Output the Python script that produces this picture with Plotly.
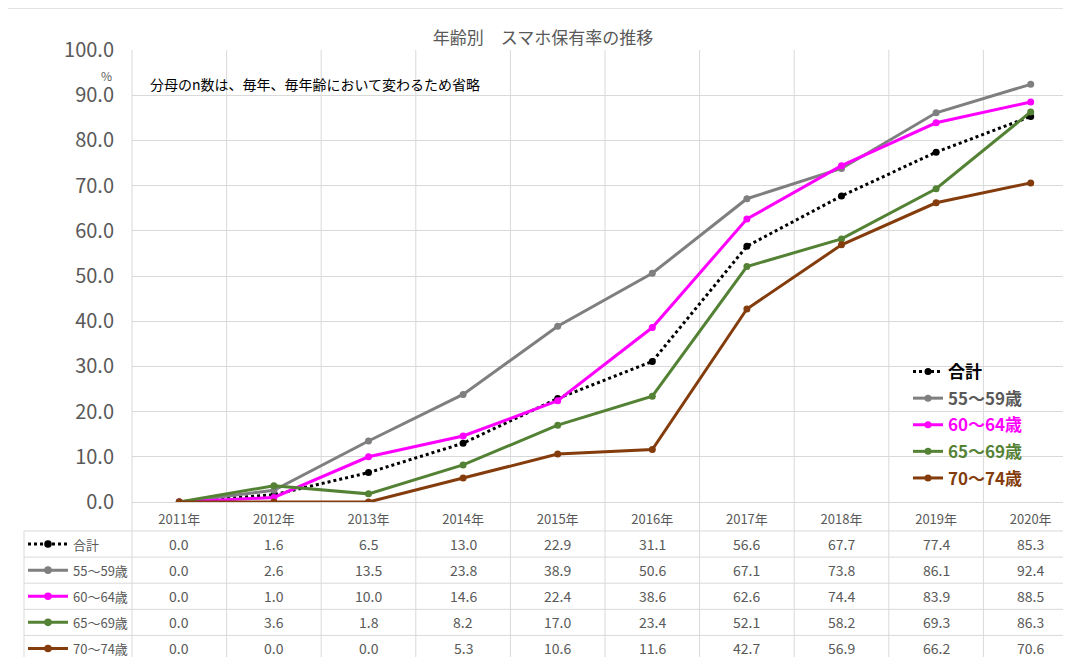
import plotly.graph_objects as go

# ---------------- data ----------------
years = ["2011年", "2012年", "2013年", "2014年", "2015年",
         "2016年", "2017年", "2018年", "2019年", "2020年"]
total    = [0.0, 1.6, 6.5, 13.0, 22.9, 31.1, 56.6, 67.7, 77.4, 85.3]
age55_59 = [0.0, 2.6, 13.5, 23.8, 38.9, 50.6, 67.1, 73.8, 86.1, 92.4]
age60_64 = [0.0, 1.0, 10.0, 14.6, 22.4, 38.6, 62.6, 74.4, 83.9, 88.5]
age65_69 = [0.0, 3.6, 1.8, 8.2, 17.0, 23.4, 52.1, 58.2, 69.3, 86.3]
age70_74 = [0.0, 0.0, 0.0, 5.3, 10.6, 11.6, 42.7, 56.9, 66.2, 70.6]

series_names = ["合計", "55～59歳", "60～64歳", "65～69歳", "70～74歳"]
series_vals = [total, age55_59, age60_64, age65_69, age70_74]
series_colors = ["#000000", "#7f7f7f", "#ff00ff", "#548235", "#843c0c"]
series_dash = ["dot", "solid", "solid", "solid", "solid"]
legend_colors = ["#000000", "#595959", "#ff00ff", "#548235", "#843c0c"]

title_text = "年齢別　スマホ保有率の推移"
note_text = "分母のn数は、毎年、毎年齢において変わるため省略"

# ---------------- layout geometry (page pixels) ----------------
OFF = 8                      # browser body margin
W_WIN, H_WIN = 1071, 657
W_FIG, H_FIG = W_WIN - OFF, H_WIN - OFF
PL, PT, PW, PH = 132, 50, 939, 452
COLW = 94.6
X0 = -0.5
X1 = X0 + PW / COLW
ROW_TOP = 531
RH = 26.1
GRID = "#d9d9d9"
TXT = "#595959"
FONT = "Noto Sans CJK JP"


def xp(px):
    return (px - PL) / PW


def yp(py):
    return (PT + PH - py) / PH


def cat_px(i):
    return PL + (i - X0) * COLW


fig = go.Figure()
for k, (name, vals, col, dash, lcol) in enumerate(
        zip(series_names, series_vals, series_colors, series_dash, legend_colors)):
    fig.add_trace(go.Scatter(
        x=list(range(len(years))), y=vals, mode="lines+markers",
        name=f"<b><span style='color:{lcol}'>{name}</span></b>",
        legendgroup=f"g{k}",
        line=dict(color=col, width=3, dash=dash),
        marker=dict(color=col, size=7),
    ))

shapes = []
# outer chart border
shapes.append(dict(type="rect", xref="paper", yref="paper",
                   x0=xp(6), x1=xp(W_WIN + 5), y0=yp(H_WIN + 5), y1=yp(8),
                   line=dict(color=GRID, width=1.5), layer="below"))
# vertical column boundaries (plot + table)
for k in range(len(years) + 1):
    px = cat_px(k - 0.5)
    if px > W_WIN:
        continue
    shapes.append(dict(type="line", xref="paper", yref="paper",
                       x0=xp(px), x1=xp(px), y0=yp(H_WIN + 5), y1=yp(PT),
                       line=dict(color=GRID, width=1), layer="below"))
# table left edge
shapes.append(dict(type="line", xref="paper", yref="paper",
                   x0=xp(24), x1=xp(24), y0=yp(H_WIN + 5), y1=yp(ROW_TOP),
                   line=dict(color=GRID, width=1), layer="below"))
# table horizontal lines
for r in range(len(series_names) + 1):
    py = ROW_TOP + r * RH
    shapes.append(dict(type="line", xref="paper", yref="paper",
                       x0=xp(24), x1=xp(W_WIN + 5), y0=yp(py), y1=yp(py),
                       line=dict(color=GRID, width=1), layer="below"))

annotations = []
# table legend keys + values
for r, (name, vals, col, dash) in enumerate(zip(series_names, series_vals,
                                                series_colors, series_dash)):
    cy = ROW_TOP + (r + 0.5) * RH
    shapes.append(dict(type="line", xref="paper", yref="paper",
                       x0=xp(28), x1=xp(68), y0=yp(cy), y1=yp(cy),
                       line=dict(color=col, width=3, dash=dash)))
    rad = 3.8
    shapes.append(dict(type="circle", xref="paper", yref="paper",
                       x0=xp(48 - rad), x1=xp(48 + rad),
                       y0=yp(cy + rad), y1=yp(cy - rad),
                       fillcolor=col, line=dict(color=col, width=0)))
    annotations.append(dict(xref="paper", yref="paper", x=xp(71), y=yp(cy),
                            text=name, showarrow=False, xanchor="left",
                            yanchor="middle",
                            font=dict(family=FONT, size=13, color=TXT)))
    for i, v in enumerate(vals):
        annotations.append(dict(xref="paper", yref="paper",
                                x=xp(cat_px(i)), y=yp(cy),
                                text=f"{v:.1f}", showarrow=False,
                                xanchor="center", yanchor="middle",
                                font=dict(family=FONT, size=14, color=TXT)))

annotations.append(dict(xref="paper", yref="paper", x=xp(148), y=yp(84),
                        text=note_text, showarrow=False, xanchor="left",
                        yanchor="middle",
                        font=dict(family=FONT, size=14, color="#000000")))
annotations.append(dict(xref="paper", yref="paper", x=xp(114), y=yp(75),
                        text="%", showarrow=False, xanchor="right",
                        yanchor="middle",
                        font=dict(family=FONT, size=12, color=TXT)))

fig.update_layout(
    width=W_FIG, height=H_FIG,
    margin=dict(l=PL - OFF, r=W_FIG - (PL - OFF) - PW, t=PT - OFF,
                b=H_FIG - (PT - OFF) - PH),
    paper_bgcolor="white", plot_bgcolor="white",
    title=dict(text=title_text, x=(543 - OFF) / W_FIG,
               y=1 - (38 - OFF) / H_FIG,
               xanchor="center", yanchor="middle",
               font=dict(family=FONT, size=17, color=TXT)),
    xaxis=dict(range=[X0, X1], tickmode="array",
               tickvals=list(range(len(years))), ticktext=years,
               showgrid=False, zeroline=False, showline=False,
               ticks="outside", ticklen=5, tickcolor="rgba(0,0,0,0)",
               tickfont=dict(family=FONT, size=13, color=TXT)),
    yaxis=dict(range=[0, 100], dtick=10, tickformat=".1f",
               showgrid=True, gridcolor=GRID, gridwidth=1,
               zeroline=True, zerolinecolor=GRID, zerolinewidth=1,
               showline=False, ticklabelstandoff=17,
               tickfont=dict(family=FONT, size=20, color=TXT)),
    legend=dict(x=xp(908), y=yp(354), xanchor="left", yanchor="top",
                bgcolor="rgba(0,0,0,0)", tracegroupgap=1.5,
                font=dict(family=FONT, size=17)),
    shapes=shapes, annotations=annotations,
    font=dict(family=FONT),
)

fig.write_html("out.html")
